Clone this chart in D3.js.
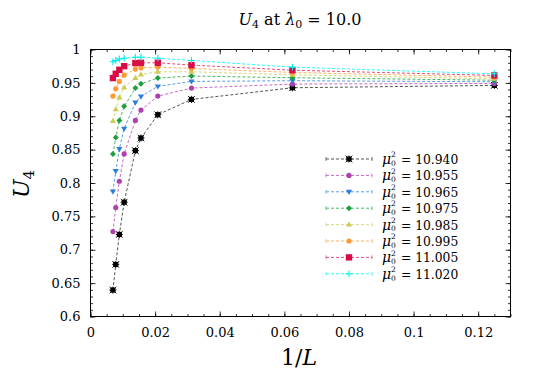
<!DOCTYPE html>
<html lang="en">
<head>
<meta charset="utf-8">
<title>U4</title>
<script src="https://cdn.jsdelivr.net/npm/d3@7"></script>
<style>
  html, body { margin: 0; padding: 0; background: #fff; }
  svg text { font-family: "DejaVu Serif", "Liberation Serif", serif; }
</style>
</head>
<body>
<script>
// 1/L for L = 144, 128, 112, 96, 72, 64, 48, 32, 16, 8
const sizes = [144, 128, 112, 96, 72, 64, 48, 32, 16, 8];
const mu2 = ["10.940", "10.955", "10.965", "10.975", "10.985", "10.995", "11.005", "11.020"];
const colors = ["#000000", "#b03fb0", "#2c7fdc", "#1e9e3e", "#cccc55", "#ff9933", "#d80d45", "#00eeee"];
const lineColors = ["#555555", "#c56ac5", "#5c9de6", "#4cb567", "#d8d87f", "#ffb066", "#e05078", "#22ffff"];
const shapes = ["boxstar", "circle", "tridown", "diamond", "triup", "circle", "square", "plus"];
const u4 = [
  [0.6396, 0.678, 0.7229, 0.7712, 0.8485, 0.8674, 0.9023, 0.9252, 0.9427, 0.9462],
  [0.7273, 0.7633, 0.8026, 0.8435, 0.8938, 0.9093, 0.9302, 0.9422, 0.9482, 0.9492],
  [0.7872, 0.818, 0.851, 0.8814, 0.9207, 0.9297, 0.9447, 0.9522, 0.9532, 0.9517],
  [0.8435, 0.868, 0.8938, 0.9148, 0.9422, 0.9487, 0.9572, 0.9602, 0.9577, 0.954],
  [0.8928, 0.9103, 0.9282, 0.9432, 0.9572, 0.9626, 0.9666, 0.9666, 0.962, 0.956],
  [0.9302, 0.9412, 0.9522, 0.9616, 0.9706, 0.9726, 0.9736, 0.9716, 0.9656, 0.9586],
  [0.9572, 0.9636, 0.9696, 0.975, 0.9796, 0.9801, 0.9801, 0.9766, 0.969, 0.9611],
  [0.9816, 0.9836, 0.986, 0.987, 0.9885, 0.9885, 0.987, 0.9836, 0.9736, 0.9636]
];
const xTicks = [0, 0.02, 0.04, 0.06, 0.08, 0.1, 0.12];
const yTicks = [0.6, 0.65, 0.7, 0.75, 0.8, 0.85, 0.9, 0.95, 1];

const w = 540, h = 378;
const pLeft = 90.5, pRight = 510.5, pTop = 49.5, pBottom = 316.5;

const svg = d3.select("body").append("svg")
  .attr("width", w).attr("height", h);

const x = d3.scaleLinear().domain([0, 0.13]).range([pLeft, pRight]);
const y = d3.scaleLinear().domain([0.6, 1]).range([pBottom, pTop]);

// ticks, inward on all sides
const fmt = d => d === 0 ? "0" : String(+d.toFixed(3));
const xMinor = d3.range(0, 0.1301, 0.005);
const yMinor = d3.range(0.6, 1.0001, 0.01);

function tickGroup(axis, tr) {
  const g = svg.append("g").attr("transform", tr).call(axis);
  g.select(".domain").remove();
  g.selectAll("line").attr("stroke", "#000").attr("stroke-width", 0.8);
  return g;
}
const xb = tickGroup(d3.axisBottom(x).tickValues(xTicks).tickFormat(fmt).tickSizeInner(-5).tickPadding(11), `translate(0,${pBottom})`);
xb.selectAll("text").attr("font-size", 13).attr("fill", "#000");
tickGroup(d3.axisBottom(x).tickValues(xMinor).tickFormat("").tickSizeInner(-2.5), `translate(0,${pBottom})`);
tickGroup(d3.axisTop(x).tickValues(xTicks).tickFormat("").tickSizeInner(-5), `translate(0,${pTop})`);
tickGroup(d3.axisTop(x).tickValues(xMinor).tickFormat("").tickSizeInner(-2.5), `translate(0,${pTop})`);

const yl = tickGroup(d3.axisLeft(y).tickValues(yTicks).tickFormat(fmt).tickSizeInner(-5).tickPadding(10), `translate(${pLeft},0)`);
yl.selectAll("text").attr("font-size", 13).attr("fill", "#000");
tickGroup(d3.axisLeft(y).tickValues(yMinor).tickFormat("").tickSizeInner(-2.5), `translate(${pLeft},0)`);
tickGroup(d3.axisRight(y).tickValues(yTicks).tickFormat("").tickSizeInner(-5), `translate(${pRight},0)`);
tickGroup(d3.axisRight(y).tickValues(yMinor).tickFormat("").tickSizeInner(-2.5), `translate(${pRight},0)`);

svg.append("rect")
  .attr("x", pLeft).attr("y", pTop)
  .attr("width", pRight - pLeft).attr("height", pBottom - pTop)
  .attr("fill", "none").attr("stroke", "#000").attr("stroke-width", 1);

function marker(g, shape, col) {
  const s = 2.6;
  if (shape === "boxstar") {
    g.append("rect").attr("x", -s).attr("y", -s).attr("width", 2 * s).attr("height", 2 * s).attr("fill", col);
    g.append("path").attr("d", `M${-s - 1},0H${s + 1}M0,${-s - 1}V${s + 1}M${-s - 0.8},${-s - 0.8}L${s + 0.8},${s + 0.8}M${-s - 0.8},${s + 0.8}L${s + 0.8},${-s - 0.8}`)
      .attr("stroke", col).attr("stroke-width", 0.8);
  } else if (shape === "circle") {
    g.append("circle").attr("r", s).attr("fill", col);
  } else if (shape === "square") {
    g.append("rect").attr("x", -s - 0.6).attr("y", -s - 0.6).attr("width", 2 * s + 1.2).attr("height", 2 * s + 1.2).attr("fill", col);
  } else if (shape === "tridown") {
    g.append("path").attr("d", `M${-s - 0.5},${-s + 0.6}L${s + 0.5},${-s + 0.6}L0,${s + 0.6}Z`).attr("fill", col);
  } else if (shape === "triup") {
    g.append("path").attr("d", `M${-s - 0.5},${s - 0.6}L${s + 0.5},${s - 0.6}L0,${-s - 0.6}Z`).attr("fill", col);
  } else if (shape === "diamond") {
    g.append("path").attr("d", `M0,${-s - 0.4}L${s + 0.4},0L0,${s + 0.4}L${-s - 0.4},0Z`).attr("fill", col);
  } else if (shape === "plus") {
    g.append("path").attr("d", `M${-s - 0.8},0H${s + 0.8}M0,${-s - 0.8}V${s + 0.8}`).attr("stroke", col).attr("stroke-width", 1.1);
  }
}

const line = d3.line().x(d => x(d[0])).y(d => y(d[1]));

u4.forEach((vals, i) => {
  const pts = vals.map((v, j) => [1 / sizes[j], v]);
  svg.append("path").datum(pts)
    .attr("d", line)
    .attr("fill", "none")
    .attr("stroke", lineColors[i])
    .attr("stroke-width", 1)
    .attr("stroke-dasharray", "3,2");
  pts.forEach(p => {
    marker(svg.append("g").attr("transform", `translate(${x(p[0])},${y(p[1])})`), shapes[i], colors[i]);
  });
});

// legend
const lg = svg.append("g");
mu2.forEach((m, i) => {
  const ly = 159 + i * 16.4;
  lg.append("line").attr("x1", 326).attr("x2", 372).attr("y1", ly).attr("y2", ly)
    .attr("stroke", lineColors[i]).attr("stroke-width", 1).attr("stroke-dasharray", "3,2");
  lg.append("line").attr("x1", 326).attr("x2", 326).attr("y1", ly - 2).attr("y2", ly + 2).attr("stroke", lineColors[i]).attr("stroke-width", 0.8);
  lg.append("line").attr("x1", 372).attr("x2", 372).attr("y1", ly - 2).attr("y2", ly + 2).attr("stroke", lineColors[i]).attr("stroke-width", 0.8);
  marker(lg.append("g").attr("transform", `translate(349,${ly})`), shapes[i], colors[i]);
  const ty = ly + 5;
  lg.append("text").attr("x", 382).attr("y", ty).attr("font-size", 14).attr("font-style", "italic").text("μ");
  lg.append("text").attr("x", 391).attr("y", ty + 1.8).attr("font-size", 7.5).text("0");
  lg.append("text").attr("x", 391).attr("y", ty - 6.8).attr("font-size", 7.5).text("2");
  lg.append("text").attr("x", 401).attr("y", ty).attr("font-size", 12.3).text("= " + m);
});

// title, centred by measured width
const tt = svg.append("text").attr("y", 25).attr("font-size", 16).attr("fill", "#000");
tt.append("tspan").attr("font-style", "italic").text("U");
tt.append("tspan").attr("font-size", 11).attr("dy", 3).text("4");
tt.append("tspan").attr("dy", -3).text(" at ");
tt.append("tspan").attr("font-style", "italic").text("λ");
tt.append("tspan").attr("font-size", 11).attr("dy", 3).text("0");
tt.append("tspan").attr("dy", -3).text(" = 10.0");
tt.attr("x", 300 - tt.node().getBBox().width / 2);

// axis labels
const xl = svg.append("text").attr("y", 365).attr("font-size", 22).attr("fill", "#000");
xl.append("tspan").text("1/");
xl.append("tspan").attr("font-style", "italic").text("L");
xl.attr("x", 299 - xl.node().getBBox().width / 2);

const ylab = svg.append("text").attr("font-size", 22).attr("fill", "#000");
ylab.append("tspan").attr("font-style", "italic").text("U");
ylab.append("tspan").attr("font-size", 15).attr("dy", 5).text("4");
ylab.attr("transform", `translate(29,${184 + ylab.node().getBBox().width / 2}) rotate(-90)`);
</script>
</body>
</html>
